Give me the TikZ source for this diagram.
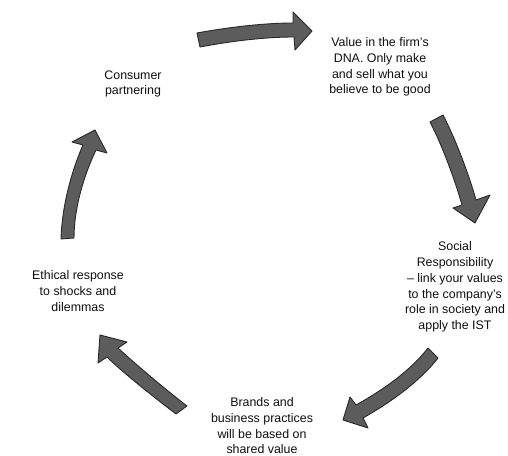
\documentclass[tikz,border=0pt]{standalone}
\usepackage{fontspec}
\setmainfont{Liberation Sans}
\definecolor{arrowfill}{RGB}{92,92,92}
\definecolor{arrowedge}{RGB}{40,40,40}
\definecolor{ink}{RGB}{15,15,15}
\begin{document}
\begin{tikzpicture}[x=1bp,y=-1bp,
  stagetext/.style={align=center, inner sep=0pt, text=ink,
    font=\fontsize{12.4bp}{15.7bp}\selectfont},
  cyclearrow/.style={fill=arrowfill, draw=arrowedge, line width=0.9bp, line join=round}]
\useasboundingbox (0,0) rectangle (508,456);
\fill[white] (0,0) rectangle (508,456);

% stages of the cycle
\node[stagetext] (value) at (380,67) {Value in the firm's\\DNA. Only make\\and sell what you\\believe to be good};
\node[stagetext] (social) at (455,287) {Social\\Responsibility\\-- link your values\\to the company's\\role in society and\\apply the IST};
\node[stagetext] (brands) at (262,426) {Brands and\\business practices\\will be based on\\shared value};
\node[stagetext] (ethical) at (78,291) {Ethical response\\to shocks and\\dilemmas};
\node[stagetext] (consumer) at (133,84) {Consumer\\partnering};

% curved block arrows running clockwise between the stages
\path[cyclearrow] (197,33) .. controls (230,27) and (265,23) .. (293,23) -- (293,12) -- (312,31)
  -- (295,50) -- (294,37) .. controls (265,37) and (232,41) .. (200,47) -- cycle;
\path[cyclearrow] (430,122) .. controls (442,145) and (455,180) .. (462,205) -- (453,208) -- (475,223)
  -- (490,195) -- (476,200) .. controls (469,175) and (456,140) .. (443,115) -- cycle;
\path[cyclearrow] (428,348) .. controls (415,365) and (392,385) .. (356,405) -- (350,397) -- (343,420)
  -- (368,428) -- (363,418) .. controls (400,397) and (424,376) .. (438,358) -- cycle;
\path[cyclearrow] (176,414) .. controls (155,398) and (122,372) .. (107,357) -- (98,363) -- (100,335)
  -- (127,342) -- (118,348) .. controls (133,362) and (166,390) .. (187,406) -- cycle;
\path[cyclearrow] (61,239) .. controls (62,205) and (72,170) .. (83,145) -- (72,142) -- (95,130)
  -- (107,153) -- (96,150) .. controls (84,175) and (74,208) .. (74,238) -- cycle;
\end{tikzpicture}
\end{document}
